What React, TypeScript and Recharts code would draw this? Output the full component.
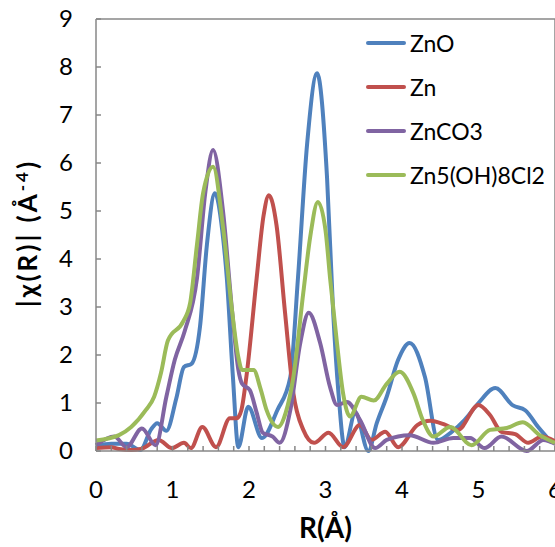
import React from 'react';
import { LineChart, Line, XAxis, YAxis, ReferenceLine, Legend } from 'recharts';

// R (Å) positions and |χ(R)| values, one pair of lists per sample
const znoR = [0, 0.2, 0.4, 0.58, 0.72, 0.8, 0.92, 1.05, 1.15, 1.25, 1.36, 1.45, 1.555, 1.65, 1.71, 1.79, 1.86, 1.99, 2.17, 2.37, 2.54, 2.64, 2.76, 2.89, 3.02, 3.1, 3.17, 3.25, 3.39, 3.56, 3.67, 3.8, 3.95, 4.1, 4.3, 4.47, 4.65, 4.82, 5.0, 5.22, 5.45, 5.61, 5.78, 5.96];
const znoY = [0.1, 0.15, 0.15, 0.02, 0.45, 0.58, 0.42, 1.1, 1.75, 1.82, 2.6, 4.3, 5.37, 4.6, 3.6, 1.54, 0.08, 0.92, 0.27, 0.85, 1.54, 3.6, 6.4, 7.87, 5.7, 2.9, 1.2, 0.08, 0.8, 0.0, 0.58, 1.13, 1.9, 2.25, 1.54, 0.23, 0.4, 0.65, 1.0, 1.31, 0.95, 0.85, 0.5, 0.17];

const znR = [0, 0.2, 0.3, 0.46, 0.6, 0.82, 0.99, 1.15, 1.24, 1.39, 1.57, 1.75, 1.84, 1.9, 1.97, 2.1, 2.19, 2.26, 2.36, 2.47, 2.58, 2.71, 2.85, 3.04, 3.23, 3.45, 3.6, 3.78, 3.95, 4.2, 4.37, 4.56, 4.73, 5.0, 5.15, 5.3, 5.48, 5.65, 5.83, 6.0];
const znY = [0.06, 0.08, 0.04, 0.02, 0.05, 0.23, 0.06, 0.17, 0.06, 0.5, 0.08, 0.68, 0.68, 0.85, 1.6, 3.6, 4.9, 5.33, 4.7, 2.9, 1.2, 0.44, 0.17, 0.38, 0.08, 0.54, 0.23, 0.4, 0.08, 0.54, 0.63, 0.55, 0.44, 0.96, 0.75, 0.4, 0.35, 0.17, 0.3, 0.2];

const znco3R = [0, 0.24, 0.4, 0.6, 0.78, 0.92, 1.03, 1.16, 1.32, 1.43, 1.53, 1.66, 1.78, 1.86, 1.91, 2.01, 2.1, 2.18, 2.31, 2.4, 2.54, 2.67, 2.78, 2.93, 3.06, 3.15, 3.28, 3.45, 3.65, 3.8, 4.1, 4.41, 4.67, 4.89, 5.08, 5.3, 5.63, 5.85, 6.0];
const znco3Y = [0.12, 0.3, 0.08, 0.47, 0.12, 1.13, 1.9, 2.5, 3.6, 5.4, 6.27, 5.0, 2.9, 1.7, 1.4, 1.27, 0.8, 0.38, 0.3, 0.17, 0.85, 2.25, 2.88, 2.25, 1.33, 0.96, 1.02, 0.65, 0.06, 0.23, 0.33, 0.17, 0.27, 0.27, 0.06, 0.3, 0.0, 0.23, 0.15];

const zn5R = [0, 0.3, 0.46, 0.65, 0.76, 0.85, 0.94, 1.14, 1.23, 1.32, 1.4, 1.53, 1.66, 1.78, 1.86, 1.91, 2.06, 2.15, 2.23, 2.38, 2.48, 2.58, 2.71, 2.8, 2.9, 3.0, 3.06, 3.15, 3.23, 3.32, 3.47, 3.63, 3.8, 3.97, 4.15, 4.27, 4.41, 4.63, 4.91, 5.15, 5.37, 5.58, 5.8, 6.0];
const zn5Y = [0.22, 0.33, 0.5, 0.85, 1.13, 1.63, 2.3, 2.7, 3.08, 4.3, 5.37, 5.92, 4.67, 2.9, 1.96, 1.69, 1.69, 1.3, 0.85, 0.5, 0.8, 1.54, 3.3, 4.46, 5.19, 4.6, 3.6, 2.25, 1.2, 0.72, 1.13, 1.05, 1.4, 1.65, 1.2, 0.65, 0.3, 0.5, 0.12, 0.44, 0.48, 0.6, 0.33, 0.17];

const xTicks = [0, 0.2, 0.4, 0.6, 0.8, 1, 1.2, 1.4, 1.6, 1.8, 2, 2.2, 2.4, 2.6, 2.8, 3, 3.2, 3.4, 3.6, 3.8, 4, 4.2, 4.4, 4.6, 4.8, 5, 5.2, 5.4, 5.6, 5.8, 6];
const yTicks = [0, 1, 2, 3, 4, 5, 6, 7, 8, 9];

const toRows = (rs: number[], ys: number[]) => rs.map((r, i) => ({ r, y: ys[i] }));

const series = [
  { name: 'ZnO', color: '#4F81BD', data: toRows(znoR, znoY) },
  { name: 'Zn', color: '#C0504D', data: toRows(znR, znY) },
  { name: 'ZnCO3', color: '#8064A2', data: toRows(znco3R, znco3Y) },
  { name: 'Zn5(OH)8Cl2', color: '#9BBB59', data: toRows(zn5R, zn5Y) },
];

const FONT = 'Lato, "Open Sans", sans-serif';
const AXIS = '#878787';

function XTick({ x, y, payload }: any) {
  const v = payload.value;
  const major = Math.abs(v - Math.round(v)) < 1e-6;
  return (
    <g>
      <line x1={x} x2={x} y1={y} y2={y - 5} stroke={AXIS} strokeWidth={1.5} />
      {major && (
        <text x={x} y={y + 47} textAnchor="middle" fontFamily={FONT} fontSize={24} fill="#000">
          {Math.round(v)}
        </text>
      )}
    </g>
  );
}

function YTick({ x, y, payload }: any) {
  return (
    <g>
      <line x1={x} x2={x + 5} y1={y} y2={y} stroke={AXIS} strokeWidth={1.5} />
      <text x={x - 23} y={y + 8} textAnchor="end" fontFamily={FONT} fontSize={24} fill="#000">
        {payload.value}
      </text>
    </g>
  );
}

function XTitle({ viewBox }: any) {
  const cx = viewBox.x + viewBox.width / 2;
  return (
    <text x={cx} y={538} textAnchor="middle" fontFamily={FONT} fontWeight="bold" fontSize={28} fill="#000">
      R(Å)
    </text>
  );
}

function YTitle({ viewBox }: any) {
  const cy = viewBox.y + viewBox.height / 2 - 2;
  return (
    <text
      x={37}
      y={cy}
      transform={`rotate(-90, 37, ${cy})`}
      textAnchor="middle"
      fontFamily={FONT}
      fontWeight="bold"
      fontSize={26}
      letterSpacing={3}
      fill="#000"
    >
      |χ(R)| (Å<tspan dy={-9} fontSize={17}>-4</tspan>
      <tspan dy={9}>)</tspan>
    </text>
  );
}

function LegendBox() {
  return (
    <div style={{ fontFamily: FONT, fontSize: 23 }}>
      {series.map((s) => (
        <div key={s.name} style={{ display: 'flex', alignItems: 'center', height: 44 }}>
          <svg width={40} height={10} style={{ marginRight: 4 }}>
            <line x1={2} x2={38} y1={5} y2={5} stroke={s.color} strokeWidth={4} strokeLinecap="round" />
          </svg>
          <span>{s.name}</span>
        </div>
      ))}
    </div>
  );
}

export default function App() {
  return (
    <div style={{ position: 'absolute', left: 0, top: 0, width: 555, height: 547, overflow: 'hidden', background: '#fff' }}>
      <LineChart width={575} height={547} margin={{ top: 19, right: 20, bottom: 0, left: 0 }}>
        <XAxis
          dataKey="r"
          type="number"
          domain={[0, 6]}
          ticks={xTicks}
          interval={0}
          allowDuplicatedCategory={false}
          axisLine={{ stroke: AXIS, strokeWidth: 1.5 }}
          tickLine={false}
          tickSize={0}
          tickMargin={0}
          tick={<XTick />}
          height={96}
          label={{ content: <XTitle /> }}
        />
        <YAxis
          type="number"
          domain={[0, 9]}
          ticks={yTicks}
          interval={0}
          axisLine={{ stroke: AXIS, strokeWidth: 1.5 }}
          tickLine={false}
          tickSize={0}
          tickMargin={0}
          tick={<YTick />}
          width={96}
          label={{ content: <YTitle /> }}
        />
        <ReferenceLine y={9} stroke={AXIS} strokeWidth={1.5} />
        <ReferenceLine x={6} stroke={AXIS} strokeWidth={1.5} />
        <Legend
          layout="vertical"
          align="center"
          verticalAlign="middle"
          content={<LegendBox />}
          wrapperStyle={{ position: 'absolute', left: 366, top: 21, width: 190, height: 180 }}
        />
        {series.map((s) => (
          <Line
            key={s.name}
            name={s.name}
            data={s.data}
            dataKey="y"
            type="monotone"
            stroke={s.color}
            strokeWidth={4}
            dot={false}
            activeDot={false}
            isAnimationActive={false}
          />
        ))}
      </LineChart>
    </div>
  );
}
